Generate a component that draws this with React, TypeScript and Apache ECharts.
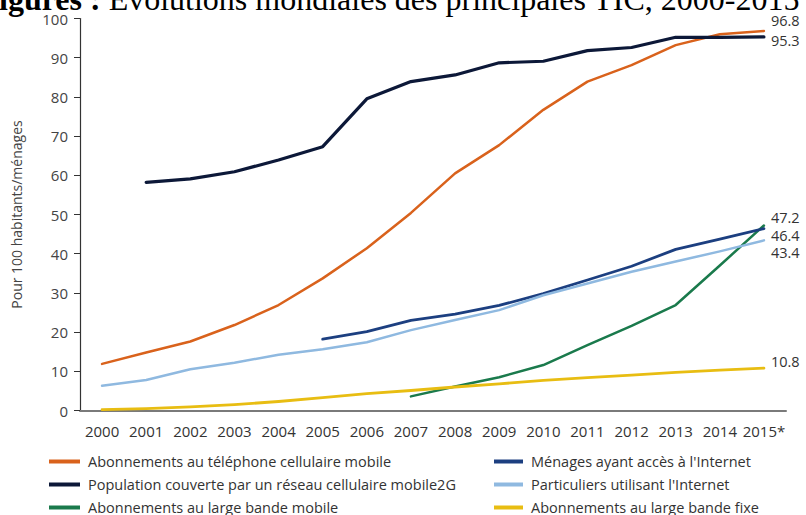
import React, { useEffect, useRef } from "react";
import * as echarts from "echarts";

const years = ["2000", "2001", "2002", "2003", "2004", "2005", "2006", "2007", "2008", "2009", "2010", "2011", "2012", "2013", "2014", "2015*"];

const mobileCell = [11.9, 14.8, 17.6, 21.8, 26.9, 33.7, 41.4, 50.4, 60.5, 67.7, 76.7, 83.9, 88.1, 93.2, 96.0, 96.8];
const pop2G = [null, 58.2, 59.1, 60.9, 63.9, 67.3, 79.5, 83.9, 85.6, 88.7, 89.1, 91.8, 92.6, 95.2, 95.2, 95.3];
const mobileBroadband = [null, null, null, null, null, null, null, 3.6, 6.1, 8.5, 11.6, 16.7, 21.6, 26.9, 37.0, 47.2];
const householdsInternet = [null, null, null, null, null, 18.2, 20.1, 23.0, 24.6, 26.8, 29.8, 33.3, 36.8, 41.1, 43.7, 46.4];
const individualsInternet = [6.3, 7.8, 10.5, 12.2, 14.2, 15.6, 17.4, 20.5, 23.1, 25.6, 29.4, 32.4, 35.4, 38.0, 40.6, 43.4];
const fixedBroadband = [0.2, 0.5, 0.9, 1.5, 2.3, 3.3, 4.3, 5.1, 6.0, 6.8, 7.7, 8.4, 9.0, 9.7, 10.3, 10.8];

const names = [
  "Abonnements au téléphone cellulaire mobile",
  "Population couverte par un réseau cellulaire mobile2G",
  "Abonnements au large bande mobile",
  "Ménages ayant accès à l'Internet",
  "Particuliers utilisant l'Internet",
  "Abonnements au large bande fixe",
];

const titleBold = "igures :";
const titleText = "Évolutions mondiales des principales TIC, 2000-2015";

const FONT = "'Open Sans', 'Noto Sans', sans-serif";
const SERIF = "'Liberation Serif', 'Times New Roman', serif";

export default function App() {
  const ref = useRef<HTMLDivElement>(null);
  useEffect(() => {
    if (!ref.current) return;
    const chart = echarts.init(ref.current, null, { renderer: "svg" });
    const mk = (name: string, data: (number | null)[], color: string, width: number, dy: number) => ({
      name,
      type: "line",
      data,
      symbol: "none",
      smooth: false,
      lineStyle: { color, width, cap: "round", join: "round" },
      itemStyle: { color },
      endLabel: {
        show: true,
        formatter: (p: any) => Number(p.value).toFixed(1),
        distance: 7,
        offset: [0, dy],
        color: "#333",
        fontSize: 14.5,
        lineHeight: 14,
        fontFamily: FONT,
      },
    });
    const legendCommon = {
      orient: "vertical",
      top: 453,
      height: 75,
      padding: 0,
      itemGap: 6,
      itemHeight: 4,
      icon: "rect",
      textStyle: { color: "#333", fontSize: 14.5, fontFamily: FONT, lineHeight: 17, padding: [0, 0, 0, 3] },
      selectedMode: false,
    };
    chart.setOption({
      animation: false,
      backgroundColor: "#fff",
      textStyle: { fontFamily: FONT },
      grid: { left: 80, right: 20, top: 18.5, bottom: 104.5, containLabel: false },
      xAxis: {
        type: "category",
        data: years,
        boundaryGap: true,
        axisLine: { show: true, lineStyle: { color: "#7a7a7a", width: 2 } },
        axisTick: { show: false },
        axisLabel: { color: "#333", fontSize: 15, fontFamily: FONT, margin: 13, interval: 0 },
        splitLine: { show: false },
      },
      yAxis: {
        type: "value",
        min: 0,
        max: 100,
        interval: 10,
        name: "Pour 100 habitants/ménages",
        nameLocation: "middle",
        nameGap: 57,
        nameTextStyle: { color: "#444", fontSize: 14, fontFamily: FONT },
        axisLine: { show: true, lineStyle: { color: "#333", width: 1.2 } },
        axisTick: { show: true, inside: false, length: 6, lineStyle: { color: "#333" } },
        axisLabel: { color: "#444", fontSize: 15, fontFamily: FONT, margin: 12 },
        splitLine: { show: false },
      },
      legend: [
        { ...legendCommon, data: [names[0], names[1], names[2]], left: 49, itemWidth: 31 },
        { ...legendCommon, data: [names[3], names[4], names[5]], left: 494, itemWidth: 29 },
      ],
      graphic: [
        {
          type: "text",
          left: -1,
          top: -17,
          style: {
            text: "{b|" + titleBold + "} " + titleText,
            fontFamily: SERIF,
            fontSize: 32,
            fill: "#000",
            rich: {
              b: { fontFamily: SERIF, fontSize: 32, fontWeight: "bold", fill: "#000" },
            },
          },
        },
      ],
      series: [
        mk(names[0], mobileCell, "#D9621C", 2.5, -11),
        mk(names[1], pop2G, "#0C1838", 3.2, 4),
        mk(names[2], mobileBroadband, "#1A7A4C", 2.5, -8),
        mk(names[3], householdsInternet, "#1C3F80", 2.8, 7),
        mk(names[4], individualsInternet, "#8FB9E0", 2.5, 12),
        mk(names[5], fixedBroadband, "#E8BD12", 2.8, -7),
      ],
    });
    return () => chart.dispose();
  }, []);
  return <div ref={ref} style={{ width: 806, height: 515, position: "absolute", left: 0, top: 0 }} />;
}
